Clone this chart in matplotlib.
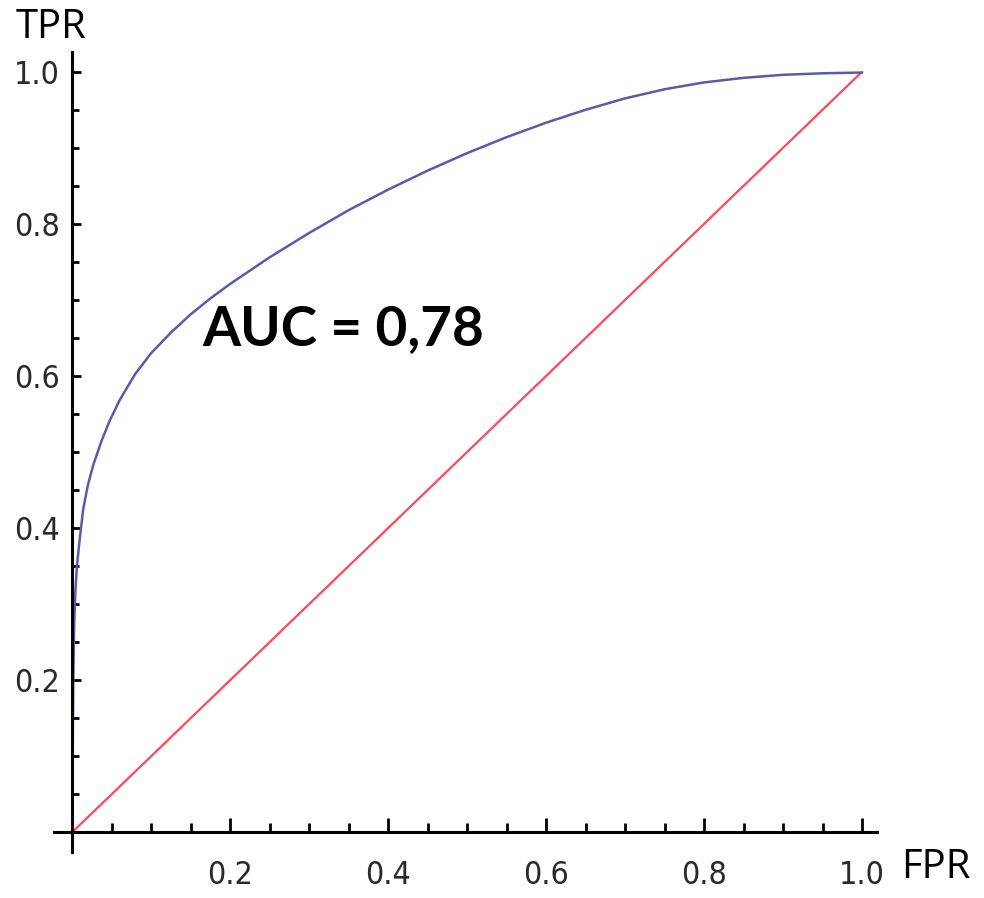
import matplotlib
matplotlib.use("Agg")
import matplotlib.pyplot as plt
from matplotlib.ticker import MultipleLocator, FixedLocator

# ROC curve values
fpr = [0.0, 0.0005, 0.001, 0.0015, 0.0025, 0.004, 0.006, 0.0095, 0.014, 0.020, 0.027,
       0.037, 0.047, 0.060, 0.080, 0.100, 0.125, 0.150, 0.175, 0.200, 0.250, 0.300,
       0.350, 0.400, 0.450, 0.500, 0.550, 0.600, 0.650, 0.700, 0.750, 0.800, 0.850,
       0.900, 0.950, 1.0]
tpr = [0.0, 0.08, 0.15, 0.21, 0.271, 0.315, 0.350, 0.385, 0.425, 0.457, 0.484,
       0.514, 0.540, 0.568, 0.603, 0.630, 0.657, 0.681, 0.702, 0.721, 0.756, 0.788,
       0.818, 0.845, 0.870, 0.893, 0.914, 0.933, 0.950, 0.965, 0.977, 0.986, 0.992,
       0.996, 0.998, 0.999]
diag_x = [0.0, 1.0]
diag_y = [0.0, 1.0]
tick_values = [0.2, 0.4, 0.6, 0.8, 1.0]
tick_labels = ["0.2", "0.4", "0.6", "0.8", "1.0"]
auc_text = "AUC = 0,78"

fig = plt.figure(figsize=(9.84, 8.98), dpi=100)
ax = fig.add_axes([54 / 984, 46 / 898, 823 / 984, 800 / 898])
ax.set_xlim(-0.023, 1.019)
ax.set_ylim(-0.026, 1.026)

ax.plot(diag_x, diag_y, color="#ff4858", lw=1.6, solid_capstyle="butt", zorder=2)
ax.plot(fpr, tpr, color="#5a5aaa", lw=1.8, zorder=3)

for s in ["top", "right"]:
    ax.spines[s].set_visible(False)
ax.spines["left"].set_position(("data", 0))
ax.spines["bottom"].set_position(("data", 0))
for s in ["left", "bottom"]:
    ax.spines[s].set_linewidth(2.2)
    ax.spines[s].set_zorder(4)

tick_font = dict(family=["DejaVu Sans"], size=23, stretch="condensed")
ax.xaxis.set_major_locator(FixedLocator(tick_values))
ax.yaxis.set_major_locator(FixedLocator(tick_values))
ax.xaxis.set_minor_locator(MultipleLocator(0.05))
ax.yaxis.set_minor_locator(MultipleLocator(0.05))
ax.set_xticklabels(tick_labels, fontdict=tick_font, color="#2a2a2a")
ax.set_yticklabels(tick_labels, fontdict=tick_font, color="#2a2a2a")

ax.tick_params(axis="x", which="major", direction="in", length=10, width=2.0, pad=20)
ax.tick_params(axis="x", which="minor", direction="in", length=6.5, width=2.0)
ax.tick_params(axis="y", which="major", direction="in", length=6.5, width=2.0, pad=9)
ax.tick_params(axis="y", which="minor", direction="in", length=5, width=2.0)

ax.text(0.165, 0.641, auc_text, fontsize=39.5, fontweight="bold",
        family=["Lato", "DejaVu Sans"], ha="left", va="baseline", zorder=5)

fig.text(16 / 984, 1 - 38 / 898, "TPR", fontsize=28.8, family=["Open Sans", "DejaVu Sans"],
         ha="left", va="baseline")
fig.text(901 / 984, 1 - 878 / 898, "FPR", fontsize=28.8, family=["Open Sans", "DejaVu Sans"],
         ha="left", va="baseline")

fig.savefig("out.png", dpi=100, facecolor="white")
